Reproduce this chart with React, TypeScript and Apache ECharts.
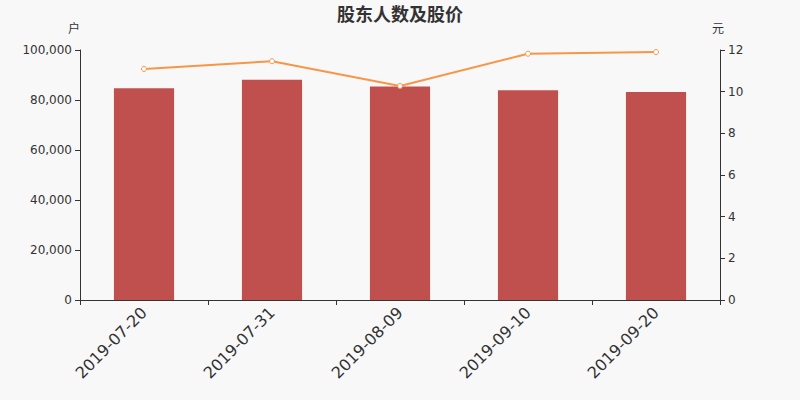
import React, { useEffect, useRef } from 'react';
import * as echarts from 'echarts';

const categories = ['2019-07-20', '2019-07-31', '2019-08-09', '2019-09-10', '2019-09-20'];
const holders = [84700, 88100, 85400, 83900, 83200];
const prices = [11.09, 11.46, 10.27, 11.82, 11.9];

const App = () => {
  const chartRef = useRef<HTMLDivElement>(null);

  useEffect(() => {
    document.body.style.margin = '0';
    if (!chartRef.current) return;
    const chart = echarts.init(chartRef.current, null, { renderer: 'svg' });

    const axisText = { color: '#333', fontSize: 12 };

    chart.setOption({
      animation: false,
      backgroundColor: '#f8f8f8',
      textStyle: { fontFamily: 'DejaVu Sans, Noto Sans CJK SC, sans-serif' },
      title: {
        text: '股东人数及股价',
        left: 'center',
        top: 0,
        textStyle: { color: '#333', fontSize: 18, fontWeight: 'bold' },
      },
      grid: { left: 80, right: 80, top: 50, bottom: 100 },
      xAxis: {
        type: 'category',
        data: categories,
        axisLine: { lineStyle: { color: '#333' } },
        axisTick: { show: true, lineStyle: { color: '#333' } },
        axisLabel: { rotate: 45, interval: 0, fontSize: 16, color: '#333', margin: 10 },
      },
      yAxis: [
        {
          type: 'value',
          name: '户',
          nameGap: 15,
          nameTextStyle: { color: '#333', fontSize: 12, align: 'right' },
          min: 0,
          max: 100000,
          interval: 20000,
          splitLine: { show: false },
          axisLine: { show: true, lineStyle: { color: '#333' } },
          axisTick: { show: true },
          axisLabel: {
            ...axisText,
            formatter: (v: number) => v.toLocaleString('en-US'),
          },
        },
        {
          type: 'value',
          name: '元',
          nameGap: 15,
          nameTextStyle: { color: '#333', fontSize: 12, align: 'left', padding: [0, 0, 0, -8] },
          min: 0,
          max: 12,
          interval: 2,
          splitLine: { show: false },
          axisLine: { show: true, lineStyle: { color: '#333' } },
          axisTick: { show: true },
          axisLabel: axisText,
        },
      ],
      series: [
        {
          name: '股东人数',
          type: 'bar',
          data: holders,
          barWidth: '47%',
          itemStyle: { color: '#c0504d' },
        },
        {
          name: '股价',
          type: 'line',
          yAxisIndex: 1,
          data: prices,
          symbol: 'circle',
          symbolSize: 5,
          lineStyle: { color: '#f79646', width: 2 },
          itemStyle: { color: '#fff', borderColor: '#f79646', borderWidth: 1 },
        },
      ],
    });

    return () => chart.dispose();
  }, []);

  return <div ref={chartRef} style={{ width: 800, height: 400 }} />;
};

export default App;
